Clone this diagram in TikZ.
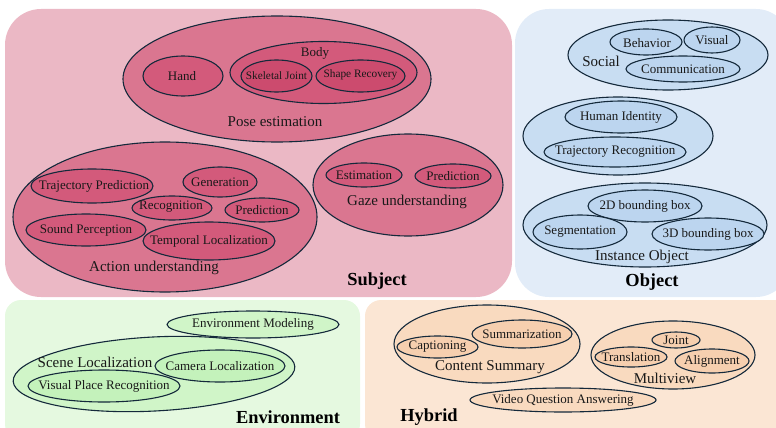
\documentclass[tikz,border=0pt]{standalone}
\usepackage{fontspec}
\setmainfont{Liberation Serif}
\definecolor{edge}{HTML}{14293B}
\definecolor{Pbg}{HTML}{EBB8C5}
\definecolor{Pa}{HTML}{DA7690}
\definecolor{Pb}{HTML}{D35A7B}
\definecolor{Pc}{HTML}{CC4B6E}
\definecolor{Bbg}{HTML}{E2ECF8}
\definecolor{Ba}{HTML}{C8DDF2}
\definecolor{Bb}{HTML}{BCD5EF}
\definecolor{Gbg}{HTML}{E5F9E0}
\definecolor{Ga}{HTML}{D0F5C8}
\definecolor{Gb}{HTML}{C4F2BB}
\definecolor{Obg}{HTML}{FBE6D4}
\definecolor{Oa}{HTML}{F9DABF}
\definecolor{Ob}{HTML}{F6CFAF}
\begin{document}
\begin{tikzpicture}[x=1pt,y=-1pt,
  ov/.style={draw=edge, line width=1.1pt},
  lbl/.style={font=\fontsize{15}{17}\selectfont, inner sep=0, text=black!90},
  sm/.style={font=\fontsize{13}{15}\selectfont, inner sep=0, text=black!90},
  xs/.style={font=\fontsize{11.3}{13}\selectfont, inner sep=0, text=black!90},
  ttl/.style={font=\fontsize{18.4}{21}\selectfont\bfseries, inner sep=0, text=black}]
\useasboundingbox (0,0) rectangle (776,428);
% panels
\fill[Pbg, rounded corners=36pt] (5,9) rectangle (512,297);
\fill[Bbg, rounded corners=34pt] (515,9) rectangle (790,297);
\fill[Gbg, rounded corners=16pt] (5,300) rectangle (360,440);
\fill[Obg, rounded corners=16pt] (365,300) rectangle (790,440);
\node[ttl] (subject) at (377,281) {Subject};
\node[ttl] (object) at (652,282) {Object};
\node[ttl] (environment) at (288,417) {Environment};
\node[ttl] (hybrid) at (429,417) {Hybrid};

% ---------- Subject
\filldraw[ov, fill=Pa] (277,79) ellipse [x radius=154, y radius=63];
\node[lbl] (pose) at (275,122) {Pose estimation};
\filldraw[ov, fill=Pb] (183,76) ellipse [x radius=40, y radius=20];
\node[sm] (hand) at (182,76) {Hand};
\filldraw[ov, fill=Pb] (323.5,72.5) ellipse [x radius=93.5, y radius=31];
\node[sm] (body) at (315,53) {Body};
\filldraw[ov, fill=Pc] (276.5,76) ellipse [x radius=35.5, y radius=16];
\node[xs] (skel) at (276.5,76) {Skeletal Joint};
\filldraw[ov, fill=Pc] (360.5,76) ellipse [x radius=44.5, y radius=16];
\node[xs] (shape) at (360.5,75) {Shape Recovery};

\filldraw[ov, fill=Pa] (165,217) ellipse [x radius=152, y radius=75];
\node[lbl] (action) at (154,268) {Action understanding};
\filldraw[ov, fill=Pb] (92,186) ellipse [x radius=61, y radius=17];
\node[sm] (trajpred) at (94,186) {Trajectory Prediction};
\filldraw[ov, fill=Pb] (220,182) ellipse [x radius=37, y radius=15];
\node[sm] (gen) at (220,182) {Generation};
\filldraw[ov, fill=Pb] (172,208) ellipse [x radius=40, y radius=12];
\node[sm] (recog) at (171,207) {Recognition};
\filldraw[ov, fill=Pb] (262,210) ellipse [x radius=37, y radius=12];
\node[sm] (apred) at (262,210) {Prediction};
\filldraw[ov, fill=Pb] (86,230) ellipse [x radius=60, y radius=16];
\node[sm] (sound) at (86,230) {Sound Perception};
\filldraw[ov, fill=Pb] (209,241) ellipse [x radius=66, y radius=19];
\node[sm] (temporal) at (209,241) {Temporal Localization};

\filldraw[ov, fill=Pa] (408,185) ellipse [x radius=95, y radius=51];
\node[lbl] (gaze) at (407,202) {Gaze understanding};
\filldraw[ov, fill=Pb] (364,175) ellipse [x radius=38, y radius=12];
\node[sm] (gest) at (364,175) {Estimation};
\filldraw[ov, fill=Pb] (453,176) ellipse [x radius=38, y radius=12];
\node[sm] (gpred) at (453,176) {Prediction};

% ---------- Object
\filldraw[ov, fill=Ba] (668,55) ellipse [x radius=100, y radius=35];
\node[lbl] (social) at (601,61) {Social};
\filldraw[ov, fill=Bb] (646,42) ellipse [x radius=36, y radius=13];
\node[sm] (behavior) at (647,43) {Behavior};
\filldraw[ov, fill=Bb] (712,40) ellipse [x radius=28, y radius=13];
\node[sm] (visual) at (712,40) {Visual};
\filldraw[ov, fill=Bb] (683,69) ellipse [x radius=57, y radius=13];
\node[sm] (comm) at (683,69) {Communication};

\filldraw[ov, fill=Ba] (618,136) ellipse [x radius=95, y radius=39];
\filldraw[ov, fill=Bb] (621,117) ellipse [x radius=56, y radius=16];
\node[sm] (humanid) at (621,117) {Human Identity};
\filldraw[ov, fill=Bb] (615,152) ellipse [x radius=71, y radius=15];
\node[sm] (trajrec) at (615,152) {Trajectory Recognition};

\filldraw[ov, fill=Ba] (645,225) ellipse [x radius=122, y radius=42];
\node[lbl] (instance) at (642,257) {Instance Object};
\filldraw[ov, fill=Bb] (645,206) ellipse [x radius=57, y radius=16];
\node[sm] (bbtwo) at (645,206) {2D bounding box};
\filldraw[ov, fill=Bb] (580,232) ellipse [x radius=47, y radius=17];
\node[sm] (seg) at (580,232) {Segmentation};
\filldraw[ov, fill=Bb] (708,234) ellipse [x radius=56, y radius=16];
\node[sm] (bbthree) at (708,234) {3D bounding box};

% ---------- Environment
\filldraw[ov, fill=Ga] (253,324.5) ellipse [x radius=86, y radius=13.5];
\node[sm] (envmod) at (253,324.5) {Environment Modeling};
\filldraw[ov, fill=Ga, rotate around={3:(154,374)}] (154,374) ellipse [x radius=141, y radius=37];
\node[lbl] (scene) at (95,362) {Scene Localization};
\filldraw[ov, fill=Gb] (220,366) ellipse [x radius=65, y radius=16];
\node[sm] (camera) at (220,366) {Camera Localization};
\filldraw[ov, fill=Gb] (104,386) ellipse [x radius=76, y radius=16];
\node[sm] (vpr) at (104,386) {Visual Place Recognition};

% ---------- Hybrid
\filldraw[ov, fill=Oa] (487,344) ellipse [x radius=93, y radius=39];
\node[lbl] (content) at (490,367) {Content Summary};
\filldraw[ov, fill=Ob] (522,334) ellipse [x radius=50, y radius=14];
\node[sm] (summ) at (522,334) {Summarization};
\filldraw[ov, fill=Ob] (437.5,347) ellipse [x radius=40.5, y radius=11];
\node[sm] (capt) at (437.5,347) {Captioning};
\filldraw[ov, fill=Oa] (673,355) ellipse [x radius=82, y radius=34];
\node[lbl] (multiview) at (665,378) {Multiview};
\filldraw[ov, fill=Ob] (676,340) ellipse [x radius=24, y radius=8];
\node[sm] (joint) at (676,340) {Joint};
\filldraw[ov, fill=Ob] (631,357) ellipse [x radius=36, y radius=10];
\node[sm] (transl) at (631,357) {Translation};
\filldraw[ov, fill=Ob] (712,361) ellipse [x radius=37, y radius=12];
\node[sm] (align) at (712,361) {Alignment};
\filldraw[ov, fill=Oa] (563,400) ellipse [x radius=93, y radius=12];
\node[sm] (vqa) at (563,400) {Video Question Answering};
\end{tikzpicture}
\end{document}
